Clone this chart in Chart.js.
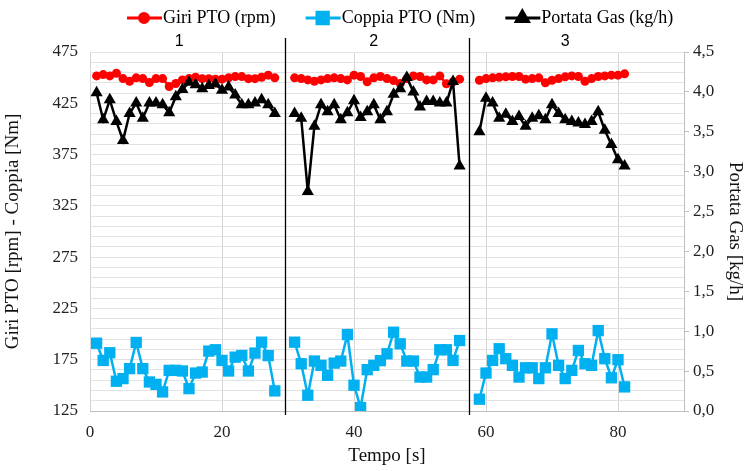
<!DOCTYPE html>
<html>
<head>
<meta charset="utf-8">
<script src="https://cdn.jsdelivr.net/npm/chart.js@4.4.1/dist/chart.umd.min.js"></script>
<style>
  html, body { margin: 0; padding: 0; background: #fff; }
  #wrap { width: 748px; height: 471px; }
</style>
</head>
<body>
<div id="wrap"><canvas id="ptoChart"></canvas></div>
<script>
// Tempo (s) per ciascuna prova
const tempo1 = [1, 2, 3, 4, 5, 6, 7, 8, 9, 10, 11, 12, 13, 14, 15, 16, 17, 18, 19, 20, 21, 22, 23, 24, 25, 26, 27, 28];
const tempo2 = [31, 32, 33, 34, 35, 36, 37, 38, 39, 40, 41, 42, 43, 44, 45, 46, 47, 48, 49, 50, 51, 52, 53, 54, 55, 56];
const tempo3 = [59, 60, 61, 62, 63, 64, 65, 66, 67, 68, 69, 70, 71, 72, 73, 74, 75, 76, 77, 78, 79, 80, 81];

// Giri PTO (rpm)
const giri1 = [451.7, 453, 451.7, 454.3, 449.1, 446.5, 449.8, 449.1, 445.3, 449.1, 449.1, 441.4, 444.3, 447.8,
  449.1, 450.4, 449, 449, 448.5, 448.5, 449.8, 451, 451, 449, 449, 450.4, 452.4, 449.8];
const giri2 = [449.8, 449.1, 447.8, 446.5, 447.8, 449.1, 449.8, 449.1, 447.8, 452.4, 451.1, 445.9, 449.8,
  451.1, 449.1, 447.2, 444.3, 449.1, 451.7, 451.1, 447.8, 447.8, 451.7, 444, 445.9, 448.5];
const giri3 = [447.5, 449.1, 449.8, 450.4, 450.8, 451.1, 451.1, 448.5, 449.1, 449.8, 444.9, 447.5, 449.1,
  450.8, 451.7, 451.1, 446.5, 449.1, 451.1, 451.7, 452.4, 452.4, 453.7];

// Coppia PTO (Nm)
const coppia1 = [191.1, 174.3, 181.8, 154, 156.6, 166.3, 191.8, 166.3, 153.3, 151, 143.6, 164.6, 164.6, 164,
  146.8, 162, 163, 183.4, 184.7, 174.3, 164, 177.5, 179.1, 164, 181.5, 192.1, 179, 144.6];
const coppia2 = [192.1, 171.1, 140.4, 173.7, 169.5, 159.8, 171.7, 173.7, 199.5, 150.1, 128.4, 165.3, 169.5,
  174.1, 180.8, 201.8, 190.5, 173.7, 173.7, 158.1, 158.1, 165.3, 184.7, 184.7, 174.3, 193.7];
const coppia3 = [136.5, 162, 174.3, 185.7, 176, 169.5, 158.1, 167.1, 167.1, 156.6, 167.1, 200.2, 169.5,
  156.6, 164.6, 184, 171.1, 169.5, 203.4, 176, 157.4, 175, 148.5];

// Portata Gas (kg/h)
const gas1 = [3.99, 3.65, 3.9, 3.63, 3.39, 3.73, 3.86, 3.67, 3.86, 3.86, 3.84, 3.74, 3.94, 4.03, 4.12, 4.09,
  4.04, 4.08, 4.1, 4.02, 4.06, 3.96, 3.84, 3.84, 3.86, 3.9, 3.84, 3.73];
const gas2 = [3.73, 3.67, 2.75, 3.57, 3.84, 3.75, 3.84, 3.65, 3.74, 3.89, 3.68, 3.75, 3.84, 3.65, 3.75, 3.97,
  4.04, 4.18, 4.0, 3.81, 3.88, 3.88, 3.86, 3.86, 4.13, 3.07];
const gas3 = [3.5, 3.92, 3.86, 3.67, 3.72, 3.63, 3.69, 3.57, 3.67, 3.7, 3.65, 3.84, 3.73, 3.65, 3.63, 3.61,
  3.59, 3.63, 3.75, 3.52, 3.34, 3.15, 3.07];

// Etichette delle prove e separatori (in secondi)
const prove = ["1", "2", "3"];
const centriProve = [13.5, 43, 72];
const separatori = [29.5, 57.5];

// Tick degli assi
const tickSinistra = [125, 175, 225, 275, 325, 375, 425, 475];
const tickTempo = [0, 20, 40, 60, 80];
const passoGriglia = 10; // righe orizzontali secondarie

const SERIF = "'Liberation Serif', 'Times New Roman', serif";

// unisce le prove in un'unica serie, con un punto nullo tra una prova e l'altra
function unisci(tempi, valori) {
  const out = [];
  tempi.forEach((t, i) => {
    if (i > 0) out.push({ x: t[0] - 1, y: null });
    t.forEach((x, j) => out.push({ x: x, y: valori[i][j] }));
  });
  return out;
}

const tempi = [tempo1, tempo2, tempo3];

// legenda disegnata sul canvas: linea + marcatore + testo
const legendaPlugin = {
  id: 'legendaPto',
  afterDraw(chart) {
    const ctx = chart.ctx;
    const y = 18;
    let x = 127;
    ctx.save();
    ctx.font = "18px " + SERIF;
    ctx.textBaseline = 'middle';
    chart.data.datasets.forEach(ds => {
      ctx.strokeStyle = ds.borderColor;
      ctx.lineWidth = 3;
      ctx.beginPath();
      ctx.moveTo(x, y);
      ctx.lineTo(x + 35, y);
      ctx.stroke();
      Chart.helpers.drawPoint(ctx, {
        pointStyle: ds.pointStyle,
        radius: ds.pointRadius,
        borderWidth: 1
      }, x + 17, y);
      ctx.fillStyle = ds.backgroundColor;
      ctx.fill();
      ctx.fillStyle = '#000';
      ctx.fillText(ds.label, x + 36, y);
      x += 36 + ctx.measureText(ds.label).width + 30;
    });
    ctx.restore();
  }
};

// linee verticali tra le prove e numero della prova
const provePlugin = {
  id: 'provePto',
  afterDatasetsDraw(chart) {
    const ctx = chart.ctx;
    const xs = chart.scales.x;
    const area = chart.chartArea;
    ctx.save();
    ctx.strokeStyle = '#000';
    ctx.lineWidth = 1.3;
    separatori.forEach(v => {
      const px = Math.round(xs.getPixelForValue(v)) + 0.5;
      ctx.beginPath();
      ctx.moveTo(px, area.top - 14);
      ctx.lineTo(px, area.bottom + 4);
      ctx.stroke();
    });
    ctx.fillStyle = '#000';
    ctx.font = "16px 'Liberation Sans', Arial, sans-serif";
    ctx.textAlign = 'center';
    ctx.textBaseline = 'middle';
    prove.forEach((p, i) => {
      ctx.fillText(p, xs.getPixelForValue(centriProve[i]), area.top - 10);
    });
    ctx.restore();
  }
};

new Chart(document.getElementById('ptoChart'), {
  type: 'line',
  data: {
    datasets: [{
      label: 'Giri PTO (rpm)',
      data: unisci(tempi, [giri1, giri2, giri3]),
      borderColor: '#FF0000',
      backgroundColor: '#FF0000',
      borderWidth: 2.5,
      pointStyle: 'circle',
      pointRadius: 4.5,
      pointBorderWidth: 0,
      yAxisID: 'y',
      order: 3
    }, {
      label: 'Coppia PTO (Nm)',
      data: unisci(tempi, [coppia1, coppia2, coppia3]),
      borderColor: '#00B0F0',
      backgroundColor: '#00B0F0',
      borderWidth: 2.5,
      pointStyle: 'rect',
      pointRadius: 8,
      pointBorderWidth: 0,
      yAxisID: 'y',
      order: 2
    }, {
      label: 'Portata Gas (kg/h)',
      data: unisci(tempi, [gas1, gas2, gas3]),
      borderColor: '#000000',
      backgroundColor: '#000000',
      borderWidth: 2.5,
      pointStyle: 'triangle',
      pointRadius: 7,
      pointBorderWidth: 0,
      yAxisID: 'y1',
      order: 1
    }]
  },
  options: {
    responsive: true,
    maintainAspectRatio: false,
    animation: false,
    layout: { padding: { top: 52, left: 0, right: 0, bottom: 0 } },
    plugins: {
      legend: { display: false },
      tooltip: { enabled: false }
    },
    scales: {
      x: {
        type: 'linear',
        min: 0,
        max: 90,
        afterBuildTicks: s => { s.ticks = tickTempo.map(v => ({ value: v })); },
        ticks: { font: { family: SERIF, size: 17 }, color: '#222', padding: 11, autoSkip: false },
        grid: { color: '#d4d4d4', drawTicks: false },
        border: { color: '#bfbfbf' },
        title: { display: true, text: 'Tempo [s]', font: { family: SERIF, size: 19 }, color: '#111', padding: { top: 6 } },
        afterFit: s => { s.height = 60; }
      },
      y: {
        position: 'left',
        min: 125,
        max: 475,
        afterBuildTicks: s => {
          const t = [];
          for (let v = s.min; v <= s.max; v += passoGriglia) t.push({ value: v });
          s.ticks = t;
        },
        ticks: {
          autoSkip: false,
          font: { family: SERIF, size: 17 },
          color: '#222',
          padding: 12,
          callback: v => tickSinistra.includes(v) ? String(v) : ''
        },
        grid: { color: '#e2e2e2', lineWidth: 1, drawTicks: false },
        border: { display: false },
        title: { display: true, text: 'Giri PTO [rpm] - Coppia [Nm]', font: { family: SERIF, size: 19 }, color: '#111', padding: 2 },
        afterFit: s => { s.width = 90; }
      },
      y1: {
        position: 'right',
        min: 0,
        max: 4.5,
        ticks: {
          stepSize: 0.5,
          autoSkip: false,
          font: { family: SERIF, size: 17 },
          color: '#222',
          padding: 4,
          callback: v => v.toFixed(1).replace('.', ',')
        },
        grid: { drawOnChartArea: false, color: '#bfbfbf', tickLength: 5 },
        border: { color: '#bfbfbf' },
        title: { display: true, text: 'Portata Gas [kg/h]', font: { family: SERIF, size: 19 }, color: '#111', padding: 2 },
        afterFit: s => { s.width = 64; }
      }
    }
  },
  plugins: [legendaPlugin, provePlugin]
});
</script>
</body>
</html>
